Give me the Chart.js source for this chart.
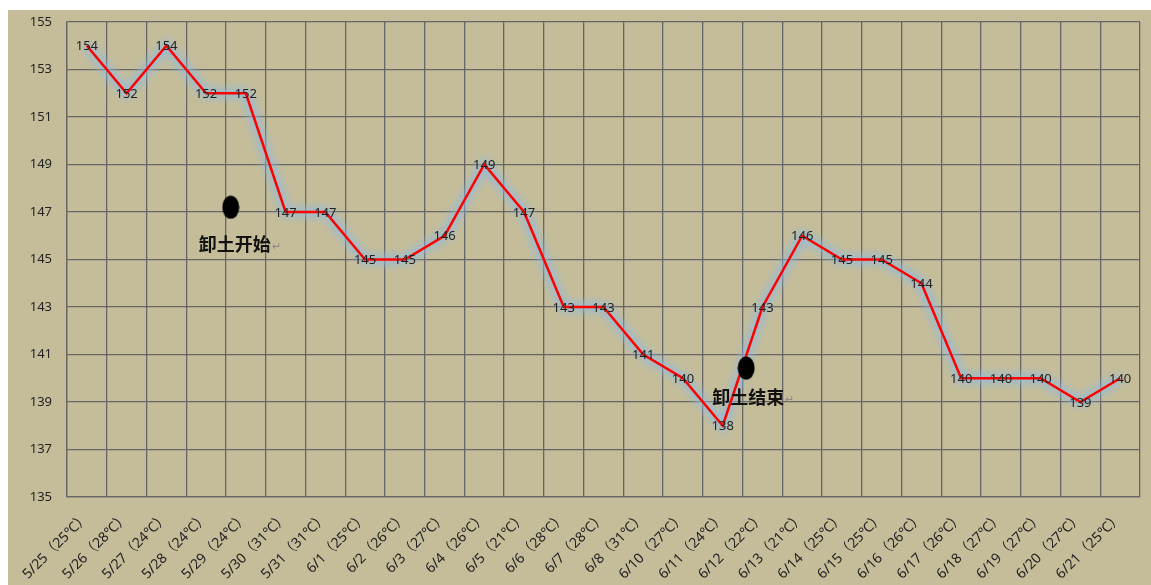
<!DOCTYPE html>
<html>
<head>
<meta charset="utf-8">
<script src="https://cdn.jsdelivr.net/npm/chart.js@4/dist/chart.umd.min.js"></script>
<style>
  html, body { margin: 0; padding: 0; background: #fff; }
  body { width: 1151px; height: 585px; overflow: hidden; position: relative; }
  #wrap { position: absolute; left: 8px; top: 10px; width: 1143px; height: 575px; background: #c5bd99; }
</style>
</head>
<body>
<div id="wrap"><canvas id="chart" width="1143" height="575"></canvas></div>
<script>
// ----- daily readings -----
const days = ["5/25", "5/26", "5/27", "5/28", "5/29", "5/30", "5/31",
  "6/1", "6/2", "6/3", "6/4", "6/5", "6/6", "6/7", "6/8",
  "6/10", "6/11", "6/12", "6/13", "6/14", "6/15", "6/16", "6/17", "6/18", "6/19", "6/20", "6/21"];
const temps = [25, 28, 24, 24, 24, 31, 31, 25, 26, 27, 26, 21, 28, 28, 31,
  27, 24, 22, 21, 25, 25, 26, 26, 27, 27, 27, 25];
const values = [154, 152, 154, 152, 152, 147, 147, 145, 145, 146, 149, 147, 143, 143, 141,
  140, 138, 143, 146, 145, 145, 144, 140, 140, 140, 139, 140];
const yTicks = [135, 137, 139, 141, 143, 145, 147, 149, 151, 153, 155];

// ----- event markers (x as category position, y as value) -----
const eventNames = ["卸土开始", "卸土结束"];
const eventDotX = [3.62, 16.59];
const eventDotY = [147.2, 140.43];
const eventTextX = [3.72, 16.64];
const eventTextY = [145.65, 139.21];

const labels = days.map((d, i) => d + "（" + temps[i] + "℃）");
const FONT = "'Noto Sans', 'Noto Sans CJK SC', sans-serif";

// oval marker used for the event dots
function ovalMarker(w, h) {
  const c = document.createElement("canvas");
  c.width = w; c.height = h;
  const g = c.getContext("2d");
  g.fillStyle = "#000";
  g.beginPath();
  g.ellipse(w / 2, h / 2, w / 2 - 0.5, h / 2 - 0.5, 0, 0, Math.PI * 2);
  g.fill();
  return c;
}
const oval = ovalMarker(18, 24);

// blur the wide halo dataset drawn under the red line
const glowPlugin = {
  id: "glow",
  beforeDatasetDraw(chart, args) {
    if (args.index !== 1) return;
    const ctx = chart.ctx;
    ctx.save();
    ctx.filter = "blur(4px)";
  },
  afterDatasetDraw(chart, args) {
    if (args.index !== 1) return;
    chart.ctx.restore();
  }
};

// value labels on every point plus the event captions
const labelPlugin = {
  id: "pointLabels",
  afterDatasetsDraw(chart) {
    const ctx = chart.ctx;
    const meta = chart.getDatasetMeta(0);
    ctx.save();
    ctx.font = "13px " + FONT;
    ctx.fillStyle = "#222";
    ctx.textAlign = "center";
    ctx.textBaseline = "middle";
    meta.data.forEach((pt, i) => {
      ctx.fillText(values[i], pt.x, pt.y + 1);
    });

    const xs = chart.scales.xa, ys = chart.scales.y;
    eventNames.forEach((name, i) => {
      const x = xs.getPixelForValue(eventTextX[i]);
      const y = ys.getPixelForValue(eventTextY[i]);
      ctx.font = "bold 18px 'Noto Sans CJK SC', sans-serif";
      ctx.fillStyle = "#111";
      ctx.textAlign = "center";
      ctx.fillText(name, x, y);
      const w = ctx.measureText(name).width;
      ctx.font = "11px " + FONT;
      ctx.fillStyle = "#8a8a8a";
      ctx.textAlign = "left";
      ctx.fillText("↵", x + w / 2 + 1, y + 3);
    });
    ctx.restore();
  }
};

new Chart(document.getElementById("chart"), {
  type: "line",
  data: {
    labels,
    datasets: [
      {
        data: values,
        borderColor: "#ff0000",
        borderWidth: 2.5,
        pointRadius: 0,
        tension: 0,
        fill: false,
        order: 1
      },
      {
        // halo
        data: values,
        borderColor: "rgba(140,185,228,0.75)",
        borderWidth: 10,
        pointRadius: 0,
        tension: 0,
        fill: false,
        order: 2
      },
      {
        type: "scatter",
        xAxisID: "xa",
        data: eventDotX.map((x, i) => ({ x, y: eventDotY[i] })),
        pointStyle: oval,
        pointRadius: 10,
        order: 0
      }
    ]
  },
  options: {
    responsive: false,
    animation: false,
    events: [],
    layout: { padding: { top: 12, right: 6, left: 0, bottom: 0 } },
    plugins: { legend: { display: false }, tooltip: { enabled: false } },
    scales: {
      x: {
        offset: true,
        grid: { color: "#666", lineWidth: 1.3, drawTicks: false, offset: true },
        border: { color: "#666", width: 1.3 },
        ticks: {
          color: "#222",
          font: { family: FONT, size: 14 },
          minRotation: 45,
          maxRotation: 45,
          padding: 12,
          autoSkip: false
        },
        afterFit(scale) {
          scale.height = 88;
          scale.paddingLeft = 0; scale.paddingRight = 0;
          scale.paddingTop = 0; scale.paddingBottom = 0;
        }
      },
      xa: {
        type: "linear",
        display: false,
        min: -0.5,
        max: 26.5
      },
      y: {
        min: 135,
        max: 155,
        afterBuildTicks(scale) { scale.ticks = yTicks.map(v => ({ value: v })); },
        grid: { color: "#666", lineWidth: 1.3, drawTicks: false },
        border: { color: "#666", width: 1.3 },
        ticks: { color: "#222", font: { family: FONT, size: 13 }, padding: 15 },
        afterFit(scale) {
          scale.width = 59;
          scale.paddingTop = 0; scale.paddingBottom = 0;
        }
      }
    }
  },
  plugins: [glowPlugin, labelPlugin]
});
</script>
</body>
</html>
